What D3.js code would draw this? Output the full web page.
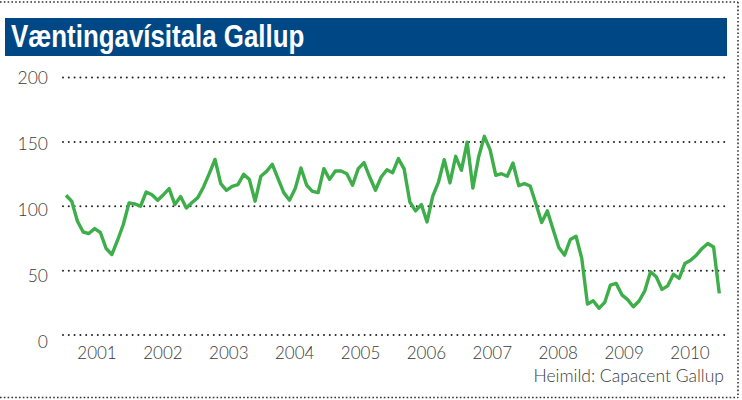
<!DOCTYPE html>
<html>
<head>
<meta charset="utf-8">
<script src="https://cdn.jsdelivr.net/npm/d3@7"></script>
<style>
  body { margin: 0; background: #fff; }
  svg { display: block; }
</style>
</head>
<body>
<svg id="chart" width="742" height="400"></svg>
<script>
// Væntingavísitala Gallup, monthly, mars 2001 - sept 2010
const values = [
  108.5, 103.9, 88.4, 80, 78.8, 82.7, 79.6, 67.2, 62.5, 73.6,
  85.8, 102.6, 101.8, 100, 111.1, 109, 104.7, 109, 113.7, 101.3,
  107.5, 98.7, 102.9, 106.7, 115, 125.3, 136.4, 117.6, 112.4, 115.5,
  116.8, 124.8, 120.7, 103.9, 123.3, 127.1, 132.6, 121.5, 110.6, 104.7,
  113.7, 129.7, 116.3, 111.6, 110.6, 129.2, 120.9, 127.4, 127.4, 125.3,
  116.3, 129.2, 133.9, 122.7, 112.4, 122.7, 128.4, 126.1, 137, 129,
  103.3, 96.4, 101.3, 87.8, 107.8, 118.8, 136.2, 118.1, 138.8, 127.9,
  149.8, 114.2, 138.2, 154.3, 144, 124, 125.3, 123.3, 133.6, 116,
  117.6, 115.7, 102, 87.4, 96.4, 81.9, 68, 62, 74.2, 76.7,
  59.5, 24, 26.6, 20.7, 25.3, 38.8, 40.1, 31.2, 27.5, 21.9,
  26.4, 34.3, 49.1, 45.2, 35.4, 38.2, 47.1, 44, 55.6, 58.1,
  62, 67.2, 71.1, 68.4, 32.3
]
const years = ['2001', '2002', '2003', '2004', '2005', '2006', '2007', '2008', '2009', '2010']
const yTicks = [0, 50, 100, 150, 200]
const title = 'Væntingavísitala Gallup'
const source = 'Heimild: Capacent Gallup'

const svg = d3.select('#chart')

// outer dotted frame (top, right, bottom)
const frame = svg.append('g')
  .attr('stroke', '#333')
  .attr('stroke-width', 1.6)
  .attr('stroke-dasharray', '1.6 2.2')
frame.append('line').attr('x1', 0).attr('x2', 738).attr('y1', 2).attr('y2', 2)
frame.append('line').attr('x1', 738).attr('x2', 738).attr('y1', 2).attr('y2', 398)
frame.append('line').attr('x1', 0).attr('x2', 738).attr('y1', 397.5).attr('y2', 397.5)

// title bar
svg.append('rect')
  .attr('x', 5).attr('y', 18)
  .attr('width', 722).attr('height', 38)
  .attr('fill', '#004785')
// condensed look: squeeze the bold sans horizontally
svg.append('text')
  .attr('transform', 'translate(11,47) scale(0.835,1)')
  .attr('fill', '#fff')
  .attr('font-family', '"Liberation Sans", Arial, sans-serif')
  .attr('font-weight', 700)
  .attr('font-size', 31)
  .text(title)

const x = d3.scaleLinear().domain([0, values.length - 1]).range([66, 719.3])
const y = d3.scaleLinear().domain([0, 200]).range([335, 77.5])
const yLab = d3.scaleLinear().domain([0, 200]).range([342, 78])
const xYear = d3.scalePoint().domain(years).range([97, 690])

// dotted gridlines
svg.append('g')
  .selectAll('line')
  .data(yTicks)
  .join('line')
  .attr('x1', 63).attr('x2', 727)
  .attr('y1', d => y(d)).attr('y2', d => y(d))
  .attr('stroke', '#222')
  .attr('stroke-width', 2)
  .attr('stroke-linecap', 'round')
  .attr('stroke-dasharray', '0 5.8')

svg.append('g')
  .selectAll('text')
  .data(yTicks)
  .join('text')
  .attr('x', 48)
  .attr('y', d => yLab(d))
  .attr('dy', '0.36em')
  .attr('text-anchor', 'end')
  .attr('fill', '#3a3a3a')
  .attr('font-family', 'Lato, sans-serif')
  .attr('font-weight', 300)
  .attr('font-size', 17.5)
  .text(d => d)

svg.append('g')
  .selectAll('text')
  .data(years)
  .join('text')
  .attr('x', d => xYear(d))
  .attr('y', 353)
  .attr('dy', '0.36em')
  .attr('text-anchor', 'middle')
  .attr('fill', '#3a3a3a')
  .attr('font-family', 'Lato, sans-serif')
  .attr('font-weight', 300)
  .attr('font-size', 17)
  .text(d => d)

const line = d3.line()
  .x((d, i) => x(i))
  .y(d => y(d))

svg.append('path')
  .datum(values)
  .attr('d', line)
  .attr('fill', 'none')
  .attr('stroke', '#3dae49')
  .attr('stroke-width', 3.4)
  .attr('stroke-linejoin', 'round')

svg.append('text')
  .attr('x', 724).attr('y', 382)
  .attr('text-anchor', 'end')
  .attr('fill', '#3a3a3a')
  .attr('font-family', 'Lato, sans-serif')
  .attr('font-weight', 300)
  .attr('font-size', 17.5)
  .text(source)
</script>
</body>
</html>
